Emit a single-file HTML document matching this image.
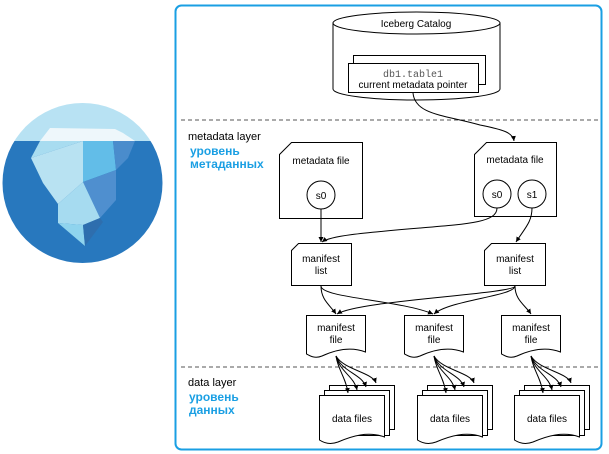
<!DOCTYPE html>
<html><head><meta charset="utf-8"><style>
html,body{margin:0;padding:0;background:#fff;width:609px;height:454px;overflow:hidden}
svg{display:block;font-family:"Liberation Sans",Arial,sans-serif}
</style></head><body>
<svg width="609" height="454" viewBox="0 0 609 454" xmlns="http://www.w3.org/2000/svg">
<defs>
<marker id="a" markerWidth="6" markerHeight="6" refX="5" refY="3" orient="auto" markerUnits="userSpaceOnUse"><path d="M0,0.5 L5,3 L0,5.5 z" fill="#000"/></marker>
<clipPath id="c"><circle cx="82.5" cy="183" r="80"/></clipPath>
</defs>
<g clip-path="url(#c)">
<rect x="0" y="100" width="170" height="41" fill="#b8e2f3"/>
<rect x="0" y="141" width="170" height="130" fill="#2878be"/>
<polygon points="40,141 50,128 115,129 123,133 135,141" fill="#eef7fb"/>
<polygon points="40,141 83,141 31,158" fill="#a8dcf0"/>
<polygon points="31,158 83,141 83,182 58,204 43,183" fill="#b8e2f2"/>
<polygon points="83,141 113,141 116,170 83,182" fill="#62bde8"/>
<polygon points="113,141 135,141 128,158 116,170" fill="#4a8ccc"/>
<polygon points="83,182 116,170 116,200 100,218" fill="#4f8fcf"/>
<polygon points="58,204 83,182 100,218 83,225 58,223" fill="#a6dbf0"/>
<polygon points="58,223 83,225 85,246" fill="#8fd4ee"/>
<polygon points="83,225 100,218 103,222 85,246" fill="#2e6eae"/>
</g>
<rect x="175.5" y="5.5" width="426" height="444" rx="6" fill="none" stroke="#1a9fe3" stroke-width="2"/>
<line x1="181" y1="120" x2="598" y2="120" stroke="#555" stroke-dasharray="4,3"/>
<line x1="181" y1="367" x2="598" y2="367" stroke="#555" stroke-dasharray="4,3"/>
<g font-size="11">
<text x="188" y="140">metadata layer</text>
<text x="190" y="155" fill="#1a9fe3" font-weight="bold" font-size="12">уровень</text>
<text x="190" y="168" fill="#1a9fe3" font-weight="bold" font-size="12">метаданных</text>
<text x="188" y="386">data layer</text>
<text x="189" y="401" fill="#1a9fe3" font-weight="bold" font-size="12">уровень</text>
<text x="189" y="414" fill="#1a9fe3" font-weight="bold" font-size="12">данных</text>
</g>
<g fill="#fff" stroke="#000" stroke-width="1">
<path d="M333,23 L333,89 A83.5,11 0 0 0 500,89 L500,23"/>
<ellipse cx="416.5" cy="23" rx="83.5" ry="11"/>
<rect x="353.5" y="55.5" width="132" height="29"/>
<rect x="348.5" y="63.5" width="130" height="29"/>
<path d="M291.5,142.5 L362.5,142.5 L362.5,218.5 L279.5,218.5 L279.5,154.5 Z"/>
<path d="M486.5,142.5 L556.5,142.5 L556.5,216.5 L474.5,216.5 L474.5,154.5 Z"/>
<circle cx="321" cy="195" r="14"/>
<circle cx="497" cy="194" r="14"/>
<circle cx="532" cy="194" r="14"/>
<path d="M298.5,243.5 L351.5,243.5 L351.5,285.5 L291.5,285.5 L291.5,250.5 Z"/>
<path d="M491.5,243.5 L545.5,243.5 L545.5,285.5 L484.5,285.5 L484.5,250.5 Z"/>
<path d="M306.5,315.5 L365.5,315.5 L365.5,352 C350,346 335,350 322,356 C315,359 310,356 306.5,354 Z"/>
<path d="M404.5,315.5 L463.5,315.5 L463.5,352 C448,346 433,350 420,356 C413,359 408,356 404.5,354 Z"/>
<path d="M501.5,315.5 L560.5,315.5 L560.5,352 C545,346 530,350 517,356 C510,359 505,356 501.5,354 Z"/>
</g>
<g fill="#fff" stroke="#000" stroke-width="1">
<g id="d">
<rect x="329.5" y="385.5" width="65" height="44"/>
<rect x="324.5" y="390.5" width="65" height="45"/>
<path d="M319.5,395.5 L384.5,395.5 L384.5,437 C368,431 352,436 338,442 C330,445 324,443 319.5,440 Z"/>
</g>
<use href="#d" x="98"/>
<use href="#d" x="195"/>
</g>
<g font-size="10" text-anchor="middle">
<text x="416" y="27">Iceberg Catalog</text>
<text x="413" y="77" font-family="Liberation Mono,monospace" fill="#555">db1.table1</text>
<text x="413" y="88">current metadata pointer</text>
<text x="321" y="164">metadata file</text>
<text x="515" y="163">metadata file</text>
<text x="321" y="199">s0</text>
<text x="497" y="198">s0</text>
<text x="532" y="198">s1</text>
<text x="321" y="262">manifest</text><text x="321" y="274">list</text>
<text x="515" y="262">manifest</text><text x="515" y="274">list</text>
<text x="336" y="331">manifest</text><text x="336" y="343">file</text>
<text x="434" y="331">manifest</text><text x="434" y="343">file</text>
<text x="531" y="331">manifest</text><text x="531" y="343">file</text>
<text x="352" y="422">data files</text>
<text x="450" y="422">data files</text>
<text x="547" y="422">data files</text>
</g>
<g fill="none" stroke="#000" stroke-width="1" marker-end="url(#a)">
<path d="M413,93 C415,115 445,115 480,125 C505,130 513,133 514,141"/>
<path d="M321,209 L321,242"/>
<path d="M497,208 C497,222 470,224 420,228 C360,233 330,236 322,242"/>
<path d="M532,208 C532,222 525,228 516,242"/>
<path d="M321,286 C321,300 330,305 336,314"/>
<path d="M321,286 C321,298 400,300 433,314"/>
<path d="M515,286 C515,296 450,300 434,314"/>
<path d="M515,286 C515,294 360,300 337,314"/>
<path d="M515,286 C515,300 525,305 531,314"/>
</g>
<g fill="none" stroke="#000" stroke-width="1" marker-end="url(#a)">
<g id="f">
<path d="M336,356 C338,370 346,378 348,393"/>
<path d="M336,356 C340,372 354,376 357,390"/>
<path d="M336,356 C342,372 362,374 366,387"/>
<path d="M336,356 C344,370 372,372 376,383"/>
</g>
<use href="#f" x="98"/>
<use href="#f" x="195"/>
</g>
</svg>
</body></html>
